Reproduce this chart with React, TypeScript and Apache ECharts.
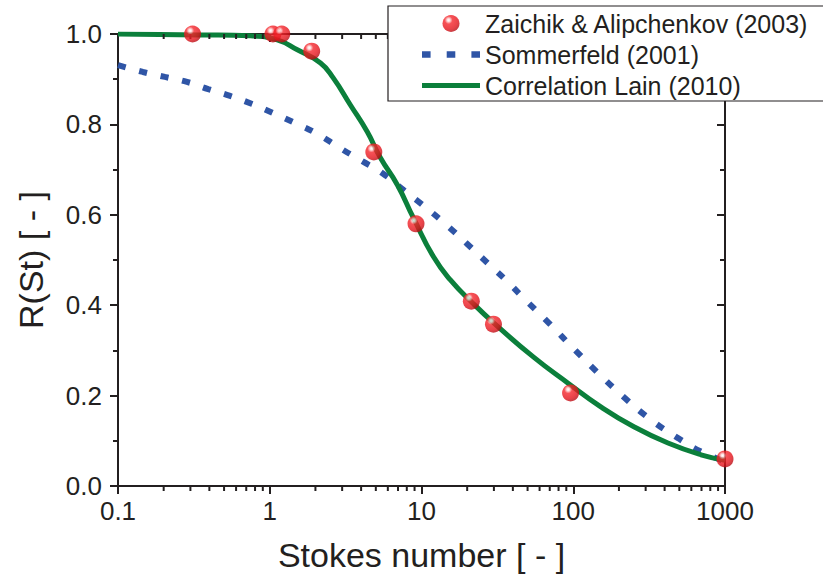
import React, { useEffect, useRef } from "react";
import * as echarts from "echarts";

// Zaichik & Alipchenkov (2003) data points
const zaichikSt = [0.31, 1.05, 1.2, 1.89, 4.85, 9.2, 21.3, 29.8, 96, 1000];
const zaichikR = [1.0, 1.0, 1.0, 0.962, 0.739, 0.58, 0.409, 0.358, 0.206, 0.06];

// Sommerfeld (2001) curve
const sommerfeldSt = [0.1, 0.146, 0.204, 0.285, 0.393, 0.548, 0.766, 1.055, 1.47, 2.06, 2.83, 3.96, 5.53, 7.61, 10.6, 14.9, 20.1, 27.3, 36.4, 46.4, 68.9, 104, 150, 215, 315, 490, 727, 1000];
const sommerfeldR = [0.931, 0.916, 0.905, 0.894, 0.878, 0.863, 0.845, 0.825, 0.803, 0.779, 0.75, 0.721, 0.692, 0.655, 0.617, 0.575, 0.535, 0.493, 0.454, 0.418, 0.361, 0.299, 0.246, 0.197, 0.15, 0.106, 0.073, 0.055];

// Correlation Lain (2010) curve
const lainSt = [0.1, 0.348, 0.744, 1.12, 1.52, 2.16, 2.62, 3.4, 4.4, 5.36, 6.94, 8.85, 12.0, 15.5, 21.7, 29.9, 54.8, 92, 152, 251, 421, 695, 1000];
const lainR = [1.0, 0.998, 0.996, 0.987, 0.965, 0.936, 0.903, 0.843, 0.783, 0.726, 0.666, 0.593, 0.507, 0.456, 0.405, 0.361, 0.285, 0.228, 0.175, 0.131, 0.095, 0.069, 0.057];

// minor tick positions of the log axis
const minorTickValues = [
  0.2, 0.3, 0.4, 0.5, 0.6, 0.7, 0.8, 0.9,
  2, 3, 4, 5, 6, 7, 8, 9,
  20, 30, 40, 50, 60, 70, 80, 90,
  200, 300, 400, 500, 600, 700, 800, 900,
];

const seriesNames = ["Zaichik & Alipchenkov (2003)", "Sommerfeld (2001)", "Correlation Lain (2010)"];

const FONT = "Arial, 'Liberation Sans', Helvetica, sans-serif";
const AX = "#231f20";
const BLUE = "#2f55a6";
const GREEN = "#0b7f3b";

export default function App() {
  const ref = useRef<HTMLDivElement>(null);
  useEffect(() => {
    if (!ref.current) return;
    const chart = echarts.init(ref.current, undefined, { renderer: "svg" });
    const sphere = new echarts.graphic.RadialGradient(0.36, 0.3, 0.72, [
      { offset: 0, color: "#ffffff" },
      { offset: 0.12, color: "#ffd6d6" },
      { offset: 0.32, color: "#f5262c" },
      { offset: 0.75, color: "#e3141c" },
      { offset: 1, color: "#b80c14" },
    ]);
    const zip = (a: number[], b: number[]) => a.map((v, i) => [v, b[i]]);
    chart.setOption({
      animation: false,
      backgroundColor: "#ffffff",
      textStyle: { fontFamily: FONT },
      grid: { left: 118, right: 98, top: 34, bottom: 91 },
      legend: {
        orient: "vertical",
        left: 388,
        top: 6,
        padding: [5, 15, 3, 34],
        itemWidth: 58,
        itemHeight: 17,
        itemGap: 6,
        backgroundColor: "#ffffff",
        borderColor: AX,
        borderWidth: 1.2,
        borderRadius: 0,
        textStyle: { fontSize: 25, color: AX, fontFamily: FONT },
        data: [
          { name: seriesNames[0], icon: "circle" },
          {
            name: seriesNames[1],
            icon: "path://M0,0h8v6h-8z M23,0h8v6h-8z M46,0h8v6h-8z",
            itemStyle: { color: BLUE },
          },
          {
            name: seriesNames[2],
            icon: "path://M0,0h58v5h-58z",
            itemStyle: { color: GREEN },
          },
        ],
      },
      xAxis: [
        {
          type: "log",
          logBase: 10,
          min: 0.1,
          max: 1000,
          position: "bottom",
          name: "Stokes number [ - ]",
          nameLocation: "middle",
          nameGap: 52,
          nameTextStyle: { fontSize: 34, color: AX, fontFamily: FONT },
          axisLine: { onZero: false, lineStyle: { color: AX, width: 2 } },
          axisTick: { inside: false, length: 8, lineStyle: { color: AX, width: 2 } },
          axisLabel: {
            margin: 12,
            fontSize: 26,
            color: AX,
            fontFamily: FONT,
            formatter: (v: number) => String(parseFloat(v.toPrecision(3))),
          },
          splitLine: { show: false },
        },
        {
          type: "log",
          logBase: 10,
          min: 0.1,
          max: 1000,
          position: "top",
          axisLine: { onZero: false, lineStyle: { color: AX, width: 2 } },
          axisTick: { inside: true, length: 8, lineStyle: { color: AX, width: 2 } },
          axisLabel: { show: false },
          splitLine: { show: false },
        },
      ],
      yAxis: [
        {
          type: "value",
          min: 0,
          max: 1,
          interval: 0.2,
          position: "left",
          name: "R(St) [ - ]",
          nameLocation: "middle",
          nameGap: 70,
          nameTextStyle: { fontSize: 34, color: AX, fontFamily: FONT },
          axisLine: { show: true, onZero: false, lineStyle: { color: AX, width: 2 } },
          axisTick: { show: true, inside: false, length: 8, lineStyle: { color: AX, width: 2 } },
          minorTick: { show: true, splitNumber: 2, length: 5, lineStyle: { color: AX, width: 2 } },
          axisLabel: {
            margin: 16,
            fontSize: 26,
            color: AX,
            fontFamily: FONT,
            formatter: (v: number) => v.toFixed(1),
          },
          splitLine: { show: false },
          minorSplitLine: { show: false },
        },
        {
          type: "value",
          min: 0,
          max: 1,
          interval: 0.2,
          position: "right",
          axisLine: { show: true, onZero: false, lineStyle: { color: AX, width: 2 } },
          axisTick: { show: true, inside: true, length: 8, lineStyle: { color: AX, width: 2 } },
          minorTick: { show: true, splitNumber: 2, length: 5, lineStyle: { color: AX, width: 2 } },
          axisLabel: { show: false },
          splitLine: { show: false },
          minorSplitLine: { show: false },
        },
      ],
      series: [
        {
          name: "minorTicks",
          type: "custom",
          xAxisIndex: 0,
          yAxisIndex: 0,
          silent: true,
          z: 3,
          data: minorTickValues.map((v) => [v, 0]),
          renderItem: (params: any, api: any) => {
            const v = api.value(0);
            const b = api.coord([v, 0]);
            const t = api.coord([v, 1]);
            const st = { stroke: AX, lineWidth: 2 };
            return {
              type: "group",
              children: [
                { type: "line", shape: { x1: b[0], y1: b[1], x2: b[0], y2: b[1] + 5 }, style: st },
                { type: "line", shape: { x1: t[0], y1: t[1], x2: t[0], y2: t[1] + 5 }, style: st },
              ],
            };
          },
        },
        {
          name: seriesNames[1],
          type: "line",
          smooth: true,
          showSymbol: false,
          symbol: "none",
          z: 2,
          lineStyle: { color: BLUE, width: 6, type: [8, 14], cap: "butt" },
          itemStyle: { color: BLUE },
          data: zip(sommerfeldSt, sommerfeldR),
        },
        {
          name: seriesNames[2],
          type: "line",
          smooth: true,
          showSymbol: false,
          symbol: "none",
          z: 2,
          lineStyle: { color: GREEN, width: 5 },
          itemStyle: { color: GREEN },
          data: zip(lainSt, lainR),
        },
        {
          name: seriesNames[0],
          type: "scatter",
          symbol: "circle",
          symbolSize: 17,
          z: 3,
          itemStyle: { color: sphere },
          data: zip(zaichikSt, zaichikR),
        },
      ],
    });
    return () => chart.dispose();
  }, []);
  return (
    <div
      ref={ref}
      style={{ position: "fixed", left: 0, top: 0, width: 823, height: 577, background: "#fff" }}
    />
  );
}
